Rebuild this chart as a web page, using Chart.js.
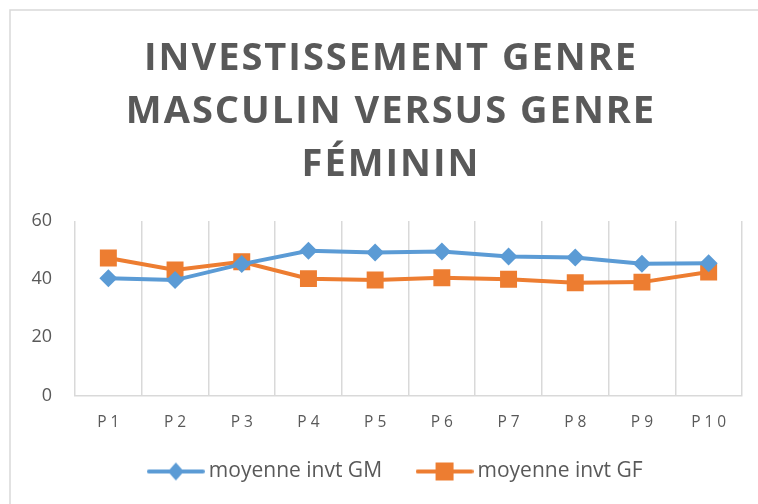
<!DOCTYPE html>
<html>
<head>
<meta charset="utf-8">
<script src="https://cdn.jsdelivr.net/npm/chart.js@4/dist/chart.umd.min.js"></script>
<style>
  html, body { margin: 0; padding: 0; background: #fff; }
  canvas { display: block; }
</style>
</head>
<body>
<canvas id="chart_invest" width="758" height="504"></canvas>
<script>
const periods = ['P1', 'P2', 'P3', 'P4', 'P5', 'P6', 'P7', 'P8', 'P9', 'P10'];
const moyenneGM = [40.3, 39.7, 45.2, 49.8, 49.2, 49.5, 47.8, 47.5, 45.3, 45.5];
const moyenneGF = [47.3, 43.2, 46.0, 40.2, 39.7, 40.5, 40.0, 38.8, 39.0, 42.5];
const titleLines = ['INVESTISSEMENT GENRE', 'MASCULIN VERSUS GENRE', 'FÉMININ'];

const blue = '#5B9BD5';
const orange = '#ED7D31';
const grey = '#595959';

// little line+marker picture for the legend
function legendIcon(color, style) {
    const c = document.createElement('canvas');
    c.width = 58; c.height = 20;
    const g = c.getContext('2d');
    g.strokeStyle = color;
    g.lineWidth = 4;
    g.lineCap = 'round';
    g.beginPath(); g.moveTo(2, 10); g.lineTo(56, 10); g.stroke();
    g.fillStyle = color;
    g.beginPath();
    if (style === 'diamond') {
        g.moveTo(29, 1); g.lineTo(37, 10); g.lineTo(29, 19); g.lineTo(21, 10);
    } else {
        g.rect(20, 1, 18, 18);
    }
    g.fill();
    return c;
}

// wraps a draw method with letter spacing / a small shift
function wrapDraw(obj, name, spacing, dx) {
    const orig = obj[name].bind(obj);
    obj[name] = function (...args) {
        const c = obj.ctx;
        c.save();
        c.letterSpacing = spacing;
        c.translate(dx, 0);
        orig(...args);
        c.restore();
    };
}

const spacingPlugin = {
    id: 'spacing',
    beforeDraw(chart) {
        const ctx = chart.ctx;
        ctx.save();
        ctx.strokeStyle = '#d9d9d9';
        ctx.lineWidth = 1.5;
        ctx.strokeRect(10, 10, 800, 600);
        ctx.restore();
        if (!chart._patched) {
            chart._patched = true;
            wrapDraw(chart.titleBlock, 'draw', '2px', 5);
            wrapDraw(chart.legend, 'draw', '0px', 12);
            // x axis box is shortened, so no clipping of its labels
            chart.scales.x._computeLabelArea = () => undefined;
            wrapDraw(chart.scales.x, 'drawLabels', '4px', 2);
        }
    }
};

const ctx = document.querySelector('#chart_invest').getContext('2d');
const chart = new Chart(ctx, {
    type: 'line',
    data: {
        labels: periods,
        datasets: [{
            label: 'moyenne invt GM',
            data: moyenneGM,
            borderColor: blue,
            backgroundColor: blue,
            borderWidth: 4,
            pointStyle: 'rectRot',
            pointRadius: 9,
            pointHoverRadius: 9,
            pointBorderWidth: 0
        }, {
            label: 'moyenne invt GF',
            data: moyenneGF,
            borderColor: orange,
            backgroundColor: orange,
            borderWidth: 4,
            pointStyle: 'rect',
            pointRadius: 12,
            pointHoverRadius: 12,
            pointBorderWidth: 0
        }]
    },
    options: {
        responsive: false,
        animation: false,
        layout: {
            padding: { left: 30, right: 16, top: 10, bottom: 12 }
        },
        scales: {
            x: {
                offset: true,
                afterFit(scale) { scale.height -= 29; },
                grid: {
                    display: true,
                    offset: true,
                    color: '#d9d9d9',
                    lineWidth: 1.5,
                    drawTicks: false
                },
                border: { display: true, color: '#d9d9d9', width: 1.5 },
                ticks: {
                    color: grey,
                    padding: 18,
                    font: { family: 'Open Sans', size: 15.5 }
                }
            },
            y: {
                min: 0,
                max: 60,
                afterFit(scale) { scale.width = 45; },
                grid: { display: false },
                border: { display: false },
                ticks: {
                    stepSize: 20,
                    color: grey,
                    padding: 15,
                    font: { family: 'Open Sans', size: 18 }
                }
            }
        },
        plugins: {
            legend: {
                display: true,
                position: 'bottom',
                labels: {
                    usePointStyle: true,
                    pointStyleWidth: 45,
                    boxHeight: 20,
                    padding: 40,
                    color: grey,
                    font: { family: 'Open Sans', size: 21 },
                    generateLabels(ch) {
                        return ch.data.datasets.map((ds, i) => ({
                            text: ds.label,
                            datasetIndex: i,
                            fontColor: grey,
                            pointStyle: legendIcon(ds.borderColor, i === 0 ? 'diamond' : 'square'),
                            lineWidth: 0,
                            hidden: false
                        }));
                    }
                }
            },
            title: {
                display: true,
                text: titleLines,
                color: grey,
                font: { family: 'Open Sans', size: 38, weight: 'bold', lineHeight: 1.387 },
                padding: { top: 23, bottom: 30 }
            },
            tooltip: { enabled: false }
        }
    },
    plugins: [spacingPlugin]
});
</script>
</body>
</html>
